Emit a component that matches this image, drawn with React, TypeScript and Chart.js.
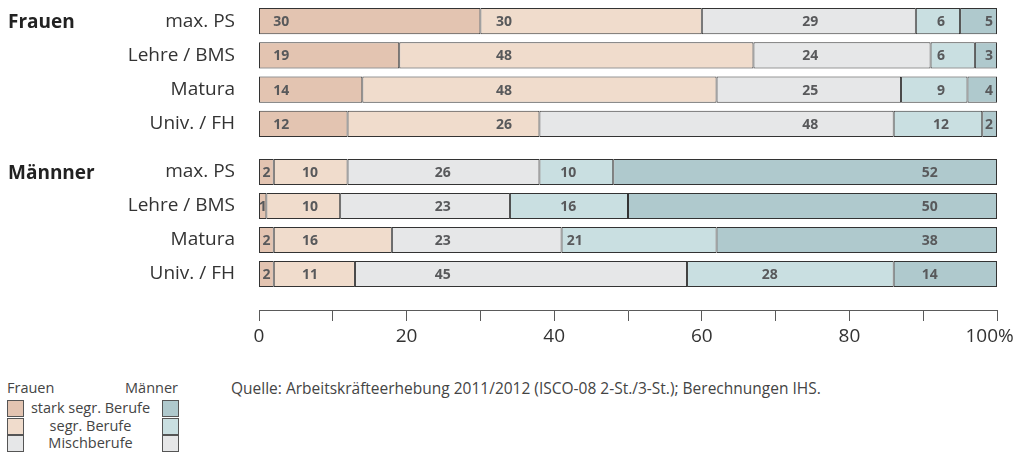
import React, { useEffect, useRef } from "react";
import { Chart, registerables } from "chart.js";

Chart.register(...registerables);

const categories = ["max. PS", "Lehre / BMS", "Matura", "Univ. / FH"];
const xTickLabels: Record<number, string> = { 0: "0", 20: "20", 40: "40", 60: "60", 80: "80", 100: "100%   " };

// Frauen
const fStarkF = [30, 19, 14, 12];
const fSegrF = [30, 48, 48, 26];
const fMisch = [29, 24, 25, 48];
const fSegrM = [6, 6, 9, 12];
const fStarkM = [5, 3, 4, 2];

// Männer
const mStarkF = [2, 1, 2, 2];
const mSegrF = [10, 10, 16, 11];
const mMisch = [26, 23, 23, 45];
const mSegrM = [10, 16, 21, 28];
const mStarkM = [52, 50, 38, 14];

const COLORS = ["#e3c4b1", "#f0dccc", "#e6e7e8", "#c9dfe1", "#afc9cd"];
const FONT = "'Open Sans', sans-serif";
const PLOT_LEFT = 259;
const PLOT_RIGHT_PAD = 28;
const AXIS_EXTRA = 40;

// label anchor (in % along the axis) per segment column and row; null = segment centre
type Anchors = (number | null)[][];
const frauenAnchors: Anchors = [
  [3, 3, 3, 3],
  [33.2, 33.2, 33.2, 33.2],
  [74.7, 74.7, 74.7, 74.7],
  [92.4, 92.4, 92.4, 92.4],
  [98.9, 98.9, 98.9, 98.9],
];
const maennerAnchors: Anchors = [
  [null, null, null, null],
  [6.9, 6.9, 6.9, 6.9],
  [24.9, 24.9, 24.9, 24.9],
  [41.9, 41.9, 42.8, 69.2],
  [90.9, 90.9, 90.9, 90.9],
];

const valueLabelPlugin = {
  id: "valueLabels",
  afterDatasetsDraw(chart: any) {
    const anchors: Anchors = chart.options.plugins.valueLabels?.anchors || [];
    const ctx = chart.ctx;
    const xs = chart.scales.x;
    const ys = chart.scales.y;
    ctx.save();
    ctx.font = `bold 14px ${FONT}`;
    ctx.fillStyle = "#58595b";
    ctx.textAlign = "center";
    ctx.textBaseline = "middle";
    chart.data.datasets.forEach((ds: any, i: number) => {
      ds.data.forEach((v: number, j: number) => {
        let anchor = anchors[i] ? anchors[i][j] : null;
        if (anchor === null || anchor === undefined) {
          let start = 0;
          for (let k = 0; k < i; k++) start += chart.data.datasets[k].data[j];
          anchor = start + v / 2;
        }
        ctx.fillText(String(v), xs.getPixelForValue(anchor), ys.getPixelForValue(j) + 1);
      });
    });
    ctx.restore();
  },
};

function makeBarConfig(series: number[][], anchors: Anchors): any {
  return {
    type: "bar",
    data: {
      labels: categories,
      datasets: series.map((d, i) => ({
        data: d,
        backgroundColor: COLORS[i],
        borderColor: "#333333",
        borderWidth: 1,
        borderSkipped: false,
        barPercentage: 0.77,
        categoryPercentage: 1,
      })),
    },
    options: {
      indexAxis: "y",
      animation: false,
      responsive: true,
      maintainAspectRatio: false,
      layout: { padding: { left: 0, right: PLOT_RIGHT_PAD, top: 0, bottom: 0 } },
      plugins: { legend: { display: false }, tooltip: { enabled: false }, valueLabels: { anchors } },
      scales: {
        x: { type: "linear", min: 0, max: 100, stacked: true, display: false, offset: false },
        y: {
          type: "category",
          stacked: true,
          grid: { display: false, drawTicks: false },
          border: { display: false },
          ticks: { padding: 24, color: "#333", font: { family: FONT, size: 19 } },
          afterFit: (s: any) => {
            s.width = PLOT_LEFT;
            s.paddingTop = 0;
            s.paddingBottom = 0;
          },
        },
      },
    },
    plugins: [valueLabelPlugin],
  };
}

function axisConfig(): any {
  return {
    type: "scatter",
    data: { datasets: [] },
    options: {
      animation: false,
      responsive: true,
      maintainAspectRatio: false,
      layout: { padding: { left: PLOT_LEFT, right: PLOT_RIGHT_PAD + AXIS_EXTRA, top: 0, bottom: 0 } },
      plugins: { legend: { display: false }, tooltip: { enabled: false } },
      scales: {
        y: { display: false },
        x: {
          type: "linear",
          min: 0,
          max: 100,
          offset: false,
          grid: { offset: false, drawOnChartArea: false, drawTicks: true, tickLength: 11, color: "#5a5a5a", lineWidth: 1 },
          border: { display: true, color: "#5a5a5a", width: 1 },
          ticks: {
            stepSize: 10,
            autoSkip: false,
            maxRotation: 0,
            padding: 4,
            color: "#333",
            font: { family: FONT, size: 19 },
            callback: (v: number) => (v in xTickLabels ? xTickLabels[v] : ""),
          },
          afterFit: (s: any) => {
            s.height = 50;
          },
        },
      },
    },
  };
}

function ChartBox({ config, top, height, width = 1025 }: { config: () => any; top: number; height: number; width?: number }) {
  const ref = useRef<HTMLCanvasElement>(null);
  useEffect(() => {
    const c = new Chart(ref.current as HTMLCanvasElement, config());
    return () => c.destroy();
  }, []);
  return (
    <div style={{ position: "absolute", left: 0, top, width, height }}>
      <canvas ref={ref} />
    </div>
  );
}

const legendRows = ["stark segr. Berufe", "segr. Berufe", "Mischberufe"];
const legendF = [COLORS[0], COLORS[1], COLORS[2]];
const legendM = [COLORS[4], COLORS[3], COLORS[2]];

export default function App() {
  const groupStyle: React.CSSProperties = {
    position: "absolute",
    left: 8,
    fontFamily: FONT,
    fontWeight: 700,
    fontSize: 19,
    color: "#222",
    lineHeight: "24px",
  };
  const txt: React.CSSProperties = { fontFamily: FONT, fontSize: 14.5, color: "#444", lineHeight: "18px" };
  return (
    <div style={{ position: "absolute", left: 0, top: 0, width: 1025, height: 466, background: "#fff", overflow: "hidden" }}>
      <ChartBox config={() => makeBarConfig([fStarkF, fSegrF, fMisch, fSegrM, fStarkM], frauenAnchors)} top={4} height={137} />
      <ChartBox config={() => makeBarConfig([mStarkF, mSegrF, mMisch, mSegrM, mStarkM], maennerAnchors)} top={155} height={136} />
      <ChartBox config={axisConfig} top={290} height={70} width={1025 + AXIS_EXTRA} />
      <div style={{ ...groupStyle, top: 9 }}>Frauen</div>
      <div style={{ ...groupStyle, top: 160 }}>Männner</div>
      <div style={{ ...txt, fontSize: 15.5, position: "absolute", left: 231, top: 379, whiteSpace: "nowrap" }}>
        Quelle: Arbeitskräfteerhebung 2011/2012 (ISCO-08 2-St./3-St.); Berechnungen IHS.
      </div>
      <div style={{ ...txt, position: "absolute", left: 7, top: 379 }}>Frauen</div>
      <div style={{ ...txt, position: "absolute", left: 110, width: 68, top: 379, textAlign: "right" }}>Männer</div>
      {legendRows.map((r, i) => (
        <React.Fragment key={r}>
          <div style={{ position: "absolute", left: 7, top: 400 + i * 17.5, width: 15, height: 15, background: legendF[i], border: "1px solid #555" }} />
          <div style={{ position: "absolute", left: 162, top: 400 + i * 17.5, width: 15, height: 15, background: legendM[i], border: "1px solid #555" }} />
          <div style={{ ...txt, position: "absolute", left: 25, width: 131, top: 399 + i * 17.5, textAlign: "center", whiteSpace: "nowrap" }}>{r}</div>
        </React.Fragment>
      ))}
    </div>
  );
}
